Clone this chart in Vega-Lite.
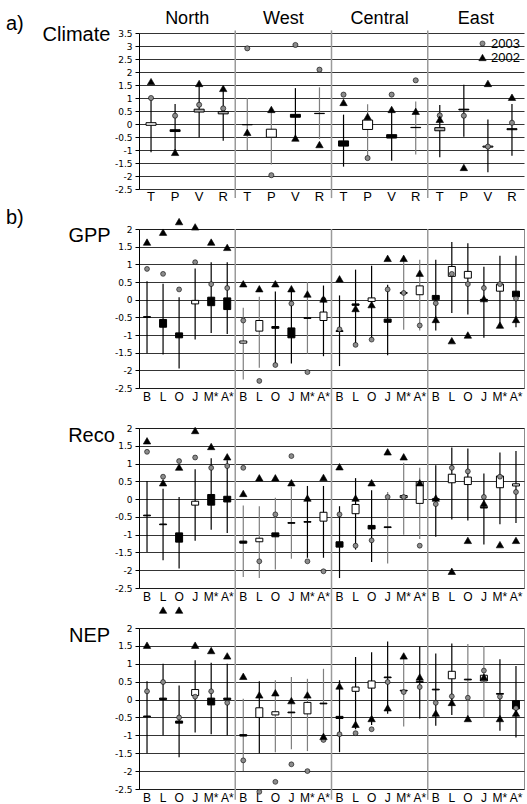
{
 "$schema": "https://vega.github.io/schema/vega-lite/v6.json",
 "padding": {"left": 5, "top": 10, "right": 2, "bottom": 2},
 "background": "white",
 "bounds": "flush",
 "spacing": 40,
 "config": {
  "font": "Liberation Sans",
  "view": {"stroke": null},
  "axis": {"labelFont": "Liberation Sans", "labelColor": "#000", "titleColor": "#000", "titleFont": "Liberation Sans", "titleFontWeight": "normal"},
  "axisY": {"grid": true, "gridColor": "#000", "gridWidth": 0.8, "domainColor": "#000", "tickColor": "#000", "tickSize": 4, "labelFont": "DejaVu Sans", "labelFontSize": 9, "labelPadding": 3, "titleAngle": 0, "titleFontSize": 20, "titleAlign": "center", "titleBaseline": "alphabetic"},
  "axisX": {"grid": false, "domain": false, "ticks": false, "labelAngle": 0, "labelFontSize": 12, "labelPadding": 3},
  "title": {"fontSize": 20, "fontWeight": "normal", "anchor": "start", "frame": "group", "offset": 0, "font": "Liberation Sans"}
 },
 "resolve": {"scale": {"x": "independent", "y": "independent", "color": "independent", "shape": "independent", "size": "independent", "fill": "independent", "stroke": "independent"}, "legend": {"color": "independent", "shape": "independent", "size": "independent"}},
 "datasets": {
  "clim": [
   {"c":"1T","lo":-1.09,"hi":1.0,"blo":-0.05,"bhi":0.05,"s":"w","w":"k","2003":1.0,"2002":1.63},
   {"c":"1P","lo":-1.09,"hi":0.77,"blo":-0.29,"bhi":-0.22,"s":"b","w":"k","2003":0.32,"2002":-1.09},
   {"c":"1V","lo":-0.51,"hi":1.51,"blo":0.46,"bhi":0.57,"s":"g","w":"k","2003":0.74,"2002":1.56},
   {"c":"1R","lo":-0.64,"hi":1.35,"blo":0.39,"bhi":0.48,"s":"g","w":"k","2003":0.6,"2002":1.37},
   {"c":"2T","lo":-1.0,"hi":1.0,"blo":-0.03,"bhi":-0.02,"s":"b","w":"g","2003":2.91,"2002":-0.32},
   {"c":"2P","lo":-1.56,"hi":0.54,"blo":-0.51,"bhi":-0.2,"s":"w","w":"g","2003":-1.97,"2002":0.56},
   {"c":"2V","lo":-0.58,"hi":1.38,"blo":0.26,"bhi":0.37,"s":"b","w":"k","2003":3.04,"2002":-0.54},
   {"c":"2R","lo":-0.58,"hi":1.41,"blo":0.4,"bhi":0.41,"s":"g","w":"g","2003":2.09,"2002":-0.79},
   {"c":"3T","lo":-1.64,"hi":0.36,"blo":-0.85,"bhi":-0.65,"s":"b","w":"k","2003":1.13,"2002":0.83},
   {"c":"3P","lo":-1.28,"hi":0.76,"blo":-0.21,"bhi":0.15,"s":"w","w":"g","2003":-1.31,"2002":0.29},
   {"c":"3V","lo":-1.41,"hi":0.54,"blo":-0.54,"bhi":-0.41,"s":"b","w":"k","2003":1.13,"2002":0.56},
   {"c":"3R","lo":-1.17,"hi":0.87,"blo":-0.14,"bhi":-0.13,"s":"b","w":"g","2003":1.68,"2002":0.49},
   {"c":"4T","lo":-1.28,"hi":0.73,"blo":-0.26,"bhi":-0.14,"s":"g","w":"k","2003":0.33,"2002":0.18},
   {"c":"4P","lo":-0.49,"hi":1.51,"blo":0.54,"bhi":0.57,"s":"b","w":"k","2003":0.32,"2002":-1.67},
   {"c":"4V","lo":-1.86,"hi":0.17,"blo":-0.89,"bhi":-0.85,"s":"g","w":"k","2003":-0.87,"2002":1.56},
   {"c":"4R","lo":-1.22,"hi":0.77,"blo":-0.22,"bhi":-0.18,"s":"b","w":"k","2003":0.05,"2002":1.03}
  ],
  "gpp": [
   {"c":"1B","lo":-1.52,"hi":0.52,"blo":-0.5,"bhi":-0.48,"s":"b","w":"k","2003":0.87,"2002":1.63},
   {"c":"1L","lo":-1.55,"hi":0.45,"blo":-0.78,"bhi":-0.56,"s":"b","w":"k","2003":0.73,"2002":1.91},
   {"c":"1O","lo":-1.95,"hi":0.07,"blo":-1.08,"bhi":-0.94,"s":"b","w":"k","2003":0.29,"2002":2.21},
   {"c":"1J","lo":-1.13,"hi":0.88,"blo":-0.12,"bhi":-0.02,"s":"w","w":"k","2003":1.06,"2002":2.06},
   {"c":"1M*","lo":-0.94,"hi":1.06,"blo":-0.17,"bhi":0.07,"s":"b","w":"k","2003":0.44,"2002":1.63},
   {"c":"1A*","lo":-0.97,"hi":1.06,"blo":-0.28,"bhi":0.05,"s":"b","w":"k","2003":0.33,"2002":1.48},
   {"c":"2B","lo":-2.26,"hi":-0.23,"blo":-1.23,"bhi":-1.17,"s":"w","w":"g","2003":-0.59,"2002":0.45},
   {"c":"2L","lo":-1.93,"hi":0.08,"blo":-0.89,"bhi":-0.59,"s":"w","w":"g","2003":-2.3,"2002":0.31},
   {"c":"2O","lo":-1.83,"hi":0.23,"blo":-0.81,"bhi":-0.76,"s":"b","w":"k","2003":-1.85,"2002":0.45},
   {"c":"2J","lo":-1.81,"hi":0.23,"blo":-1.08,"bhi":-0.8,"s":"b","w":"k","2003":-0.11,"2002":0.31},
   {"c":"2M*","lo":-1.53,"hi":0.5,"blo":-0.53,"bhi":-0.51,"s":"b","w":"g","2003":-2.05,"2002":0.16},
   {"c":"2A*","lo":-1.6,"hi":0.4,"blo":-0.59,"bhi":-0.35,"s":"w","w":"k","2003":0.0,"2002":0.02},
   {"c":"3B","lo":-1.88,"hi":0.12,"blo":-0.9,"bhi":-0.88,"s":"b","w":"k","2003":-0.84,"2002":0.59},
   {"c":"3L","lo":-1.27,"hi":0.85,"blo":-0.16,"bhi":-0.12,"s":"b","w":"k","2003":-1.28,"2002":-0.25},
   {"c":"3O","lo":-1.13,"hi":0.96,"blo":-0.05,"bhi":0.05,"s":"w","w":"k","2003":-1.13,"2002":-0.14},
   {"c":"3J","lo":-1.57,"hi":0.42,"blo":-0.64,"bhi":-0.55,"s":"b","w":"k","2003":0.29,"2002":1.17},
   {"c":"3M*","lo":-0.85,"hi":1.22,"blo":0.18,"bhi":0.2,"s":"b","w":"g","2003":0.19,"2002":1.17},
   {"c":"3A*","lo":-0.87,"hi":1.13,"blo":0.14,"bhi":0.39,"s":"w","w":"g","2003":-0.73,"2002":0.75},
   {"c":"4B","lo":-0.87,"hi":1.13,"blo":0.0,"bhi":0.12,"s":"b","w":"k","2003":-0.1,"2002":-0.56},
   {"c":"4L","lo":-0.38,"hi":1.63,"blo":0.66,"bhi":0.94,"s":"w","w":"k","2003":0.73,"2002":-1.16},
   {"c":"4O","lo":-0.42,"hi":1.6,"blo":0.61,"bhi":0.8,"s":"w","w":"k","2003":0.44,"2002":-1.0},
   {"c":"4J","lo":-1.08,"hi":0.93,"blo":-0.01,"bhi":0.01,"s":"b","w":"k","2003":0.33,"2002":0.03},
   {"c":"4M*","lo":-0.75,"hi":1.24,"blo":0.24,"bhi":0.44,"s":"w","w":"k","2003":0.44,"2002":-0.72},
   {"c":"4A*","lo":-0.78,"hi":1.24,"blo":0.08,"bhi":0.24,"s":"b","w":"k","2003":0.03,"2002":-0.56}
  ],
  "reco": [
   {"c":"1B","lo":-1.49,"hi":0.51,"blo":-0.47,"bhi":-0.45,"s":"b","w":"k","2003":1.33,"2002":1.64},
   {"c":"1L","lo":-1.72,"hi":0.29,"blo":-0.72,"bhi":-0.7,"s":"b","w":"k","2003":0.63,"2002":0.46},
   {"c":"1O","lo":-1.95,"hi":0.06,"blo":-1.21,"bhi":-0.95,"s":"b","w":"k","2003":1.07,"2002":0.9},
   {"c":"1J","lo":-1.17,"hi":0.84,"blo":-0.17,"bhi":-0.06,"s":"w","w":"k","2003":1.17,"2002":1.93},
   {"c":"1M*","lo":-0.86,"hi":1.15,"blo":-0.17,"bhi":0.13,"s":"b","w":"k","2003":0.88,"2002":1.48},
   {"c":"1A*","lo":-0.95,"hi":1.09,"blo":-0.08,"bhi":0.08,"s":"b","w":"k","2003":0.93,"2002":1.19},
   {"c":"2B","lo":-2.19,"hi":-0.18,"blo":-1.24,"bhi":-1.18,"s":"b","w":"g","2003":0.88,"2002":0.16},
   {"c":"2L","lo":-2.22,"hi":-0.2,"blo":-1.2,"bhi":-1.1,"s":"w","w":"g","2003":-1.75,"2002":0.6},
   {"c":"2O","lo":-1.98,"hi":0.04,"blo":-1.06,"bhi":-0.95,"s":"b","w":"g","2003":-0.43,"2002":0.6},
   {"c":"2J","lo":-1.68,"hi":0.34,"blo":-0.68,"bhi":-0.66,"s":"b","w":"g","2003":1.21,"2002":0.46},
   {"c":"2M*","lo":-1.65,"hi":0.37,"blo":-0.65,"bhi":-0.63,"s":"b","w":"k","2003":-1.75,"2002":0.03},
   {"c":"2A*","lo":-1.65,"hi":0.37,"blo":-0.62,"bhi":-0.37,"s":"w","w":"k","2003":-2.03,"2002":0.61},
   {"c":"3B","lo":-2.22,"hi":-0.2,"blo":-1.35,"bhi":-1.2,"s":"b","w":"k","2003":-0.43,"2002":0.91},
   {"c":"3L","lo":-1.42,"hi":0.59,"blo":-0.41,"bhi":-0.15,"s":"w","w":"k","2003":-1.31,"2002":0.03},
   {"c":"3O","lo":-1.77,"hi":0.25,"blo":-0.84,"bhi":-0.74,"s":"b","w":"k","2003":-1.16,"2002":0.46},
   {"c":"3J","lo":-1.81,"hi":0.2,"blo":-0.8,"bhi":-0.78,"s":"b","w":"g","2003":0.06,"2002":1.33},
   {"c":"3M*","lo":-1.0,"hi":1.02,"blo":0.04,"bhi":0.1,"s":"w","w":"g","2003":0.06,"2002":1.19},
   {"c":"3A*","lo":-1.12,"hi":0.88,"blo":-0.12,"bhi":0.49,"s":"w","w":"g","2003":-1.31,"2002":0.46},
   {"c":"4B","lo":-1.06,"hi":0.95,"blo":-0.01,"bhi":0.01,"s":"b","w":"k","2003":-0.14,"2002":0.03},
   {"c":"4L","lo":-0.57,"hi":1.45,"blo":0.46,"bhi":0.7,"s":"w","w":"k","2003":0.88,"2002":-2.03},
   {"c":"4O","lo":-0.6,"hi":1.42,"blo":0.41,"bhi":0.62,"s":"w","w":"k","2003":0.78,"2002":-1.16},
   {"c":"4J","lo":-1.28,"hi":0.72,"blo":-0.25,"bhi":-0.23,"s":"b","w":"k","2003":0.06,"2002":-0.12},
   {"c":"4M*","lo":-0.71,"hi":1.31,"blo":0.32,"bhi":0.65,"s":"w","w":"k","2003":0.63,"2002":-1.28},
   {"c":"4A*","lo":-0.67,"hi":1.35,"blo":0.37,"bhi":0.43,"s":"w","w":"k","2003":0.2,"2002":-1.16}
  ],
  "nep": [
   {"c":"1B","lo":-1.5,"hi":0.51,"blo":-0.48,"bhi":-0.46,"s":"b","w":"k","2003":0.23,"2002":1.52},
   {"c":"1L","lo":-1.0,"hi":1.0,"blo":0.0,"bhi":0.04,"s":"b","w":"k","2003":0.49,"2002":2.5},
   {"c":"1O","lo":-1.61,"hi":0.39,"blo":-0.66,"bhi":-0.6,"s":"b","w":"k","2003":-0.5,"2002":2.5},
   {"c":"1J","lo":-0.92,"hi":1.1,"blo":0.11,"bhi":0.28,"s":"w","w":"k","2003":0.08,"2002":1.52},
   {"c":"1M*","lo":-0.97,"hi":1.03,"blo":-0.15,"bhi":0.04,"s":"b","w":"k","2003":0.23,"2002":1.37},
   {"c":"1A*","lo":-1.0,"hi":1.0,"blo":0.0,"bhi":0.04,"s":"b","w":"k","2003":-0.09,"2002":1.22},
   {"c":"2B","lo":-2.0,"hi":0.02,"blo":-1.02,"bhi":-0.98,"s":"b","w":"g","2003":-1.7,"2002":0.65},
   {"c":"2L","lo":-1.5,"hi":0.51,"blo":-0.5,"bhi":-0.23,"s":"w","w":"k","2003":-2.58,"2002":0.13},
   {"c":"2O","lo":-1.47,"hi":0.54,"blo":-0.43,"bhi":-0.34,"s":"w","w":"g","2003":-2.3,"2002":0.19},
   {"c":"2J","lo":-1.39,"hi":0.63,"blo":-0.37,"bhi":-0.35,"s":"b","w":"g","2003":-1.81,"2002":-0.03},
   {"c":"2M*","lo":-1.44,"hi":0.58,"blo":-0.4,"bhi":-0.08,"s":"w","w":"g","2003":-2.0,"2002":0.13},
   {"c":"2A*","lo":-1.14,"hi":0.86,"blo":-0.12,"bhi":-0.1,"s":"b","w":"g","2003":-1.13,"2002":-1.03},
   {"c":"3B","lo":-1.47,"hi":0.54,"blo":-0.53,"bhi":-0.47,"s":"b","w":"k","2003":-0.97,"2002":0.38},
   {"c":"3L","lo":-0.83,"hi":1.19,"blo":0.23,"bhi":0.35,"s":"w","w":"k","2003":-0.94,"2002":-0.69},
   {"c":"3O","lo":-0.71,"hi":1.32,"blo":0.32,"bhi":0.52,"s":"w","w":"k","2003":-0.83,"2002":-0.53},
   {"c":"3J","lo":-0.4,"hi":1.62,"blo":0.61,"bhi":0.63,"s":"b","w":"k","2003":0.49,"2002":-0.23},
   {"c":"3M*","lo":-0.75,"hi":1.29,"blo":0.24,"bhi":0.26,"s":"b","w":"g","2003":0.21,"2002":1.22},
   {"c":"3A*","lo":-0.53,"hi":1.48,"blo":0.48,"bhi":0.5,"s":"b","w":"k","2003":0.35,"2002":0.63},
   {"c":"4B","lo":-0.73,"hi":1.29,"blo":0.27,"bhi":0.29,"s":"b","w":"k","2003":-0.09,"2002":-0.38},
   {"c":"4L","lo":-0.43,"hi":1.57,"blo":0.58,"bhi":0.79,"s":"w","w":"k","2003":0.09,"2002":-0.08},
   {"c":"4O","lo":-0.5,"hi":1.55,"blo":0.55,"bhi":0.57,"s":"b","w":"g","2003":0.05,"2002":-0.53},
   {"c":"4J","lo":-0.5,"hi":1.5,"blo":0.52,"bhi":0.68,"s":"w","w":"g","2003":0.81,"2002":0.63},
   {"c":"4M*","lo":-0.87,"hi":1.13,"blo":0.15,"bhi":0.17,"s":"b","w":"k","2003":0.08,"2002":-0.53},
   {"c":"4A*","lo":-1.06,"hi":0.94,"blo":-0.26,"bhi":-0.03,"s":"b","w":"k","2003":-0.24,"2002":-0.38}
  ]
 },
 "vconcat": [
  {
   "width": 385, "height": 156,
   "title": {"text": "a)", "dx": -133, "dy": 44, "baseline": "alphabetic"},
   "layer": [
    {"data": {"values": [{"c":"2T"},{"c":"3T"},{"c":"4T"}]},
     "mark": {"type": "rule", "color": "#9a9a9a", "strokeWidth": 1.5},
     "encoding": {
      "x": {"field": "c", "type": "nominal", "bandPosition": 0, "scale": {"type": "band", "domain": ["1T","1P","1V","1R","2T","2P","2V","2R","3T","3P","3V","3R","4T","4P","4V","4R"], "paddingInner": 0, "paddingOuter": 0}, "axis": {"title": null, "labelExpr": "substring(datum.label, 1)", "labelFontSize": 13, "labelPadding": 1}},
      "y": {"datum": 3.6, "type": "quantitative", "scale": {"domain": [-2.5, 3.5], "nice": false, "zero": false}, "axis": {"values": [-2.5,-2,-1.5,-1,-0.5,0,0.5,1,1.5,2,2.5,3,3.5], "title": "Climate", "labelExpr": "datum.value + ''", "titleX": -63, "titleY": 7}},
      "y2": {"datum": -2.85}
     }},
    {"data": {"name": "clim"},
     "mark": {"type": "rule", "strokeWidth": 1.2},
     "encoding": {
      "x": {"field": "c", "type": "nominal", "scale": {"type": "band", "domain": ["1T","1P","1V","1R","2T","2P","2V","2R","3T","3P","3V","3R","4T","4P","4V","4R"], "paddingInner": 0, "paddingOuter": 0}, "axis": {"title": null, "labelExpr": "substring(datum.label, 1)", "labelFontSize": 13, "labelPadding": 1}},
      "y": {"field": "lo", "type": "quantitative", "scale": {"domain": [-2.5, 3.5], "nice": false, "zero": false}, "axis": {"values": [-2.5,-2,-1.5,-1,-0.5,0,0.5,1,1.5,2,2.5,3,3.5], "title": "Climate", "labelExpr": "datum.value + ''", "titleX": -63, "titleY": 7}},
      "y2": {"field": "hi"},
      "stroke": {"field": "w", "type": "nominal", "scale": {"domain": ["k","g"], "range": ["#000000","#7f7f7f"]}, "legend": null}
     }},
    {"data": {"name": "clim"},
     "mark": {"type": "bar", "size": 10, "stroke": "#000", "strokeWidth": 1},
     "encoding": {
      "x": {"field": "c", "type": "nominal", "scale": {"type": "band", "domain": ["1T","1P","1V","1R","2T","2P","2V","2R","3T","3P","3V","3R","4T","4P","4V","4R"], "paddingInner": 0, "paddingOuter": 0}, "axis": {"title": null, "labelExpr": "substring(datum.label, 1)", "labelFontSize": 13, "labelPadding": 1}},
      "y": {"field": "blo", "type": "quantitative", "scale": {"domain": [-2.5, 3.5], "nice": false, "zero": false}, "axis": {"values": [-2.5,-2,-1.5,-1,-0.5,0,0.5,1,1.5,2,2.5,3,3.5], "title": "Climate", "labelExpr": "datum.value + ''", "titleX": -63, "titleY": 7}},
      "y2": {"field": "bhi"},
      "fill": {"field": "s", "type": "nominal", "scale": {"domain": ["w","b","g"], "range": ["#ffffff","#000000","#b0b0b0"]}, "legend": null}
     }},
    {"data": {"name": "clim"},
     "transform": [{"fold": ["2003","2002"], "as": ["year","val"]}],
     "mark": {"type": "point", "filled": true, "stroke": "#000", "strokeWidth": 0.6, "opacity": 1},
     "encoding": {
      "x": {"field": "c", "type": "nominal", "scale": {"type": "band", "domain": ["1T","1P","1V","1R","2T","2P","2V","2R","3T","3P","3V","3R","4T","4P","4V","4R"], "paddingInner": 0, "paddingOuter": 0}, "axis": {"title": null, "labelExpr": "substring(datum.label, 1)", "labelFontSize": 13, "labelPadding": 1}},
      "y": {"field": "val", "type": "quantitative", "scale": {"domain": [-2.5, 3.5], "nice": false, "zero": false}, "axis": {"values": [-2.5,-2,-1.5,-1,-0.5,0,0.5,1,1.5,2,2.5,3,3.5], "title": "Climate", "labelExpr": "datum.value + ''", "titleX": -63, "titleY": 7}},
      "color": {"field": "year", "type": "nominal", "scale": {"domain": ["2003","2002"], "range": ["#8c8c8c","#000000"]}, "legend": {"orient": "top-right", "title": null, "offset": 4, "padding": 0, "rowPadding": 0, "labelFontSize": 13, "labelFont": "Liberation Sans", "labelOffset": 2, "symbolStrokeColor": "#000", "symbolStrokeWidth": 0.5}},
      "shape": {"field": "year", "type": "nominal", "scale": {"domain": ["2003","2002"], "range": ["circle","triangle-up"]}, "legend": {"orient": "top-right", "title": null, "offset": 4, "padding": 0, "rowPadding": 0, "labelFontSize": 13, "labelFont": "Liberation Sans", "labelOffset": 2, "symbolStrokeColor": "#000", "symbolStrokeWidth": 0.5}},
      "size": {"field": "year", "type": "nominal", "scale": {"domain": ["2003","2002"], "range": [26, 55]}, "legend": {"orient": "top-right", "title": null, "offset": 4, "padding": 0, "rowPadding": 0, "labelFontSize": 13, "labelFont": "Liberation Sans", "labelOffset": 2, "symbolStrokeColor": "#000", "symbolStrokeWidth": 0.5}}
     }},
    {"data": {"values": [{"c":"1V","n":"North"},{"c":"2V","n":"West"},{"c":"3V","n":"Central"},{"c":"4V","n":"East"}]},
     "mark": {"type": "text", "fontSize": 18, "font": "Liberation Sans", "baseline": "middle", "color": "#000"},
     "encoding": {
      "x": {"field": "c", "type": "nominal", "bandPosition": 0, "scale": {"type": "band", "domain": ["1T","1P","1V","1R","2T","2P","2V","2R","3T","3P","3V","3R","4T","4P","4V","4R"], "paddingInner": 0, "paddingOuter": 0}, "axis": {"title": null, "labelExpr": "substring(datum.label, 1)", "labelFontSize": 13, "labelPadding": 1}},
      "y": {"datum": 4.02, "type": "quantitative", "scale": {"domain": [-2.5, 3.5], "nice": false, "zero": false}, "axis": {"values": [-2.5,-2,-1.5,-1,-0.5,0,0.5,1,1.5,2,2.5,3,3.5], "title": "Climate", "labelExpr": "datum.value + ''", "titleX": -63, "titleY": 7}},
      "text": {"field": "n"}
     }}
   ]
  },
  {
   "width": 385, "height": 159,
   "view": {"stroke": "#8c8c8c"},
   "title": {"text": "b)", "dx": -133, "dy": 31, "baseline": "alphabetic"},
   "layer": [
    {"data": {"values": [{"c":"2B"},{"c":"3B"},{"c":"4B"}]},
     "mark": {"type": "rule", "color": "#9a9a9a", "strokeWidth": 1.5},
     "encoding": {
      "x": {"field": "c", "type": "nominal", "bandPosition": 0, "scale": {"type": "band", "domain": ["1B","1L","1O","1J","1M*","1A*","2B","2L","2O","2J","2M*","2A*","3B","3L","3O","3J","3M*","3A*","4B","4L","4O","4J","4M*","4A*"], "paddingInner": 0, "paddingOuter": 0}, "axis": {"title": null, "labelExpr": "substring(datum.label, 1)"}},
      "y": {"datum": 2, "type": "quantitative", "scale": {"domain": [-2.5, 2], "nice": false, "zero": false}, "axis": {"values": [-2.5,-2,-1.5,-1,-0.5,0,0.5,1,1.5,2], "title": "GPP", "labelExpr": "datum.value + ''", "titleX": -50, "titleY": 12}},
      "y2": {"datum": -3.63}
     }},
    {"data": {"name": "gpp"},
     "mark": {"type": "rule", "strokeWidth": 1.2},
     "encoding": {
      "x": {"field": "c", "type": "nominal", "scale": {"type": "band", "domain": ["1B","1L","1O","1J","1M*","1A*","2B","2L","2O","2J","2M*","2A*","3B","3L","3O","3J","3M*","3A*","4B","4L","4O","4J","4M*","4A*"], "paddingInner": 0, "paddingOuter": 0}, "axis": {"title": null, "labelExpr": "substring(datum.label, 1)"}},
      "y": {"field": "lo", "type": "quantitative", "scale": {"domain": [-2.5, 2], "nice": false, "zero": false}, "axis": {"values": [-2.5,-2,-1.5,-1,-0.5,0,0.5,1,1.5,2], "title": "GPP", "labelExpr": "datum.value + ''", "titleX": -50, "titleY": 12}},
      "y2": {"field": "hi"},
      "stroke": {"field": "w", "type": "nominal", "scale": {"domain": ["k","g"], "range": ["#000000","#7f7f7f"]}, "legend": null}
     }},
    {"data": {"name": "gpp"},
     "mark": {"type": "bar", "size": 7, "stroke": "#000", "strokeWidth": 1},
     "encoding": {
      "x": {"field": "c", "type": "nominal", "scale": {"type": "band", "domain": ["1B","1L","1O","1J","1M*","1A*","2B","2L","2O","2J","2M*","2A*","3B","3L","3O","3J","3M*","3A*","4B","4L","4O","4J","4M*","4A*"], "paddingInner": 0, "paddingOuter": 0}, "axis": {"title": null, "labelExpr": "substring(datum.label, 1)"}},
      "y": {"field": "blo", "type": "quantitative", "scale": {"domain": [-2.5, 2], "nice": false, "zero": false}, "axis": {"values": [-2.5,-2,-1.5,-1,-0.5,0,0.5,1,1.5,2], "title": "GPP", "labelExpr": "datum.value + ''", "titleX": -50, "titleY": 12}},
      "y2": {"field": "bhi"},
      "fill": {"field": "s", "type": "nominal", "scale": {"domain": ["w","b","g"], "range": ["#ffffff","#000000","#b0b0b0"]}, "legend": null}
     }},
    {"data": {"name": "gpp"},
     "transform": [{"fold": ["2003","2002"], "as": ["year","val"]}],
     "mark": {"type": "point", "filled": true, "stroke": "#000", "strokeWidth": 0.6, "opacity": 1},
     "encoding": {
      "x": {"field": "c", "type": "nominal", "scale": {"type": "band", "domain": ["1B","1L","1O","1J","1M*","1A*","2B","2L","2O","2J","2M*","2A*","3B","3L","3O","3J","3M*","3A*","4B","4L","4O","4J","4M*","4A*"], "paddingInner": 0, "paddingOuter": 0}, "axis": {"title": null, "labelExpr": "substring(datum.label, 1)"}},
      "y": {"field": "val", "type": "quantitative", "scale": {"domain": [-2.5, 2], "nice": false, "zero": false}, "axis": {"values": [-2.5,-2,-1.5,-1,-0.5,0,0.5,1,1.5,2], "title": "GPP", "labelExpr": "datum.value + ''", "titleX": -50, "titleY": 12}},
      "color": {"field": "year", "type": "nominal", "scale": {"domain": ["2003","2002"], "range": ["#8c8c8c","#000000"]}, "legend": null},
      "shape": {"field": "year", "type": "nominal", "scale": {"domain": ["2003","2002"], "range": ["circle","triangle-up"]}, "legend": null},
      "size": {"field": "year", "type": "nominal", "scale": {"domain": ["2003","2002"], "range": [24, 55]}, "legend": null}
     }}
   ]
  },
  {
   "width": 385, "height": 160,
   "view": {"stroke": "#8c8c8c"},
   "layer": [
    {"data": {"values": [{"c":"2B"},{"c":"3B"},{"c":"4B"}]},
     "mark": {"type": "rule", "color": "#9a9a9a", "strokeWidth": 1.5},
     "encoding": {
      "x": {"field": "c", "type": "nominal", "bandPosition": 0, "scale": {"type": "band", "domain": ["1B","1L","1O","1J","1M*","1A*","2B","2L","2O","2J","2M*","2A*","3B","3L","3O","3J","3M*","3A*","4B","4L","4O","4J","4M*","4A*"], "paddingInner": 0, "paddingOuter": 0}, "axis": {"title": null, "labelExpr": "substring(datum.label, 1)"}},
      "y": {"datum": 2, "type": "quantitative", "scale": {"domain": [-2.5, 2], "nice": false, "zero": false}, "axis": {"values": [-2.5,-2,-1.5,-1,-0.5,0,0.5,1,1.5,2], "title": "Reco", "labelExpr": "datum.value + ''", "titleX": -48, "titleY": 13}},
      "y2": {"datum": -3.62}
     }},
    {"data": {"name": "reco"},
     "mark": {"type": "rule", "strokeWidth": 1.2},
     "encoding": {
      "x": {"field": "c", "type": "nominal", "scale": {"type": "band", "domain": ["1B","1L","1O","1J","1M*","1A*","2B","2L","2O","2J","2M*","2A*","3B","3L","3O","3J","3M*","3A*","4B","4L","4O","4J","4M*","4A*"], "paddingInner": 0, "paddingOuter": 0}, "axis": {"title": null, "labelExpr": "substring(datum.label, 1)"}},
      "y": {"field": "lo", "type": "quantitative", "scale": {"domain": [-2.5, 2], "nice": false, "zero": false}, "axis": {"values": [-2.5,-2,-1.5,-1,-0.5,0,0.5,1,1.5,2], "title": "Reco", "labelExpr": "datum.value + ''", "titleX": -48, "titleY": 13}},
      "y2": {"field": "hi"},
      "stroke": {"field": "w", "type": "nominal", "scale": {"domain": ["k","g"], "range": ["#000000","#7f7f7f"]}, "legend": null}
     }},
    {"data": {"name": "reco"},
     "mark": {"type": "bar", "size": 7, "stroke": "#000", "strokeWidth": 1},
     "encoding": {
      "x": {"field": "c", "type": "nominal", "scale": {"type": "band", "domain": ["1B","1L","1O","1J","1M*","1A*","2B","2L","2O","2J","2M*","2A*","3B","3L","3O","3J","3M*","3A*","4B","4L","4O","4J","4M*","4A*"], "paddingInner": 0, "paddingOuter": 0}, "axis": {"title": null, "labelExpr": "substring(datum.label, 1)"}},
      "y": {"field": "blo", "type": "quantitative", "scale": {"domain": [-2.5, 2], "nice": false, "zero": false}, "axis": {"values": [-2.5,-2,-1.5,-1,-0.5,0,0.5,1,1.5,2], "title": "Reco", "labelExpr": "datum.value + ''", "titleX": -48, "titleY": 13}},
      "y2": {"field": "bhi"},
      "fill": {"field": "s", "type": "nominal", "scale": {"domain": ["w","b","g"], "range": ["#ffffff","#000000","#b0b0b0"]}, "legend": null}
     }},
    {"data": {"name": "reco"},
     "transform": [{"fold": ["2003","2002"], "as": ["year","val"]}],
     "mark": {"type": "point", "filled": true, "stroke": "#000", "strokeWidth": 0.6, "opacity": 1},
     "encoding": {
      "x": {"field": "c", "type": "nominal", "scale": {"type": "band", "domain": ["1B","1L","1O","1J","1M*","1A*","2B","2L","2O","2J","2M*","2A*","3B","3L","3O","3J","3M*","3A*","4B","4L","4O","4J","4M*","4A*"], "paddingInner": 0, "paddingOuter": 0}, "axis": {"title": null, "labelExpr": "substring(datum.label, 1)"}},
      "y": {"field": "val", "type": "quantitative", "scale": {"domain": [-2.5, 2], "nice": false, "zero": false}, "axis": {"values": [-2.5,-2,-1.5,-1,-0.5,0,0.5,1,1.5,2], "title": "Reco", "labelExpr": "datum.value + ''", "titleX": -48, "titleY": 13}},
      "color": {"field": "year", "type": "nominal", "scale": {"domain": ["2003","2002"], "range": ["#8c8c8c","#000000"]}, "legend": null},
      "shape": {"field": "year", "type": "nominal", "scale": {"domain": ["2003","2002"], "range": ["circle","triangle-up"]}, "legend": null},
      "size": {"field": "year", "type": "nominal", "scale": {"domain": ["2003","2002"], "range": [24, 55]}, "legend": null}
     }}
   ]
  },
  {
   "width": 385, "height": 161,
   "view": {"stroke": "#8c8c8c"},
   "layer": [
    {"data": {"values": [{"c":"2B"},{"c":"3B"},{"c":"4B"}]},
     "mark": {"type": "rule", "color": "#9a9a9a", "strokeWidth": 1.5},
     "encoding": {
      "x": {"field": "c", "type": "nominal", "bandPosition": 0, "scale": {"type": "band", "domain": ["1B","1L","1O","1J","1M*","1A*","2B","2L","2O","2J","2M*","2A*","3B","3L","3O","3J","3M*","3A*","4B","4L","4O","4J","4M*","4A*"], "paddingInner": 0, "paddingOuter": 0}, "axis": {"title": null, "labelExpr": "substring(datum.label, 1)"}},
      "y": {"datum": 2, "type": "quantitative", "scale": {"domain": [-2.5, 2], "nice": false, "zero": false}, "axis": {"values": [-2.5,-2,-1.5,-1,-0.5,0,0.5,1,1.5,2], "title": "NEP", "labelExpr": "datum.value + ''", "titleX": -50, "titleY": 13}},
      "y2": {"datum": -2.8}
     }},
    {"data": {"name": "nep"},
     "mark": {"type": "rule", "strokeWidth": 1.2},
     "encoding": {
      "x": {"field": "c", "type": "nominal", "scale": {"type": "band", "domain": ["1B","1L","1O","1J","1M*","1A*","2B","2L","2O","2J","2M*","2A*","3B","3L","3O","3J","3M*","3A*","4B","4L","4O","4J","4M*","4A*"], "paddingInner": 0, "paddingOuter": 0}, "axis": {"title": null, "labelExpr": "substring(datum.label, 1)"}},
      "y": {"field": "lo", "type": "quantitative", "scale": {"domain": [-2.5, 2], "nice": false, "zero": false}, "axis": {"values": [-2.5,-2,-1.5,-1,-0.5,0,0.5,1,1.5,2], "title": "NEP", "labelExpr": "datum.value + ''", "titleX": -50, "titleY": 13}},
      "y2": {"field": "hi"},
      "stroke": {"field": "w", "type": "nominal", "scale": {"domain": ["k","g"], "range": ["#000000","#7f7f7f"]}, "legend": null}
     }},
    {"data": {"name": "nep"},
     "mark": {"type": "bar", "size": 7, "stroke": "#000", "strokeWidth": 1},
     "encoding": {
      "x": {"field": "c", "type": "nominal", "scale": {"type": "band", "domain": ["1B","1L","1O","1J","1M*","1A*","2B","2L","2O","2J","2M*","2A*","3B","3L","3O","3J","3M*","3A*","4B","4L","4O","4J","4M*","4A*"], "paddingInner": 0, "paddingOuter": 0}, "axis": {"title": null, "labelExpr": "substring(datum.label, 1)"}},
      "y": {"field": "blo", "type": "quantitative", "scale": {"domain": [-2.5, 2], "nice": false, "zero": false}, "axis": {"values": [-2.5,-2,-1.5,-1,-0.5,0,0.5,1,1.5,2], "title": "NEP", "labelExpr": "datum.value + ''", "titleX": -50, "titleY": 13}},
      "y2": {"field": "bhi"},
      "fill": {"field": "s", "type": "nominal", "scale": {"domain": ["w","b","g"], "range": ["#ffffff","#000000","#b0b0b0"]}, "legend": null}
     }},
    {"data": {"name": "nep"},
     "transform": [{"fold": ["2003","2002"], "as": ["year","val"]}],
     "mark": {"type": "point", "filled": true, "stroke": "#000", "strokeWidth": 0.6, "opacity": 1},
     "encoding": {
      "x": {"field": "c", "type": "nominal", "scale": {"type": "band", "domain": ["1B","1L","1O","1J","1M*","1A*","2B","2L","2O","2J","2M*","2A*","3B","3L","3O","3J","3M*","3A*","4B","4L","4O","4J","4M*","4A*"], "paddingInner": 0, "paddingOuter": 0}, "axis": {"title": null, "labelExpr": "substring(datum.label, 1)"}},
      "y": {"field": "val", "type": "quantitative", "scale": {"domain": [-2.5, 2], "nice": false, "zero": false}, "axis": {"values": [-2.5,-2,-1.5,-1,-0.5,0,0.5,1,1.5,2], "title": "NEP", "labelExpr": "datum.value + ''", "titleX": -50, "titleY": 13}},
      "color": {"field": "year", "type": "nominal", "scale": {"domain": ["2003","2002"], "range": ["#8c8c8c","#000000"]}, "legend": null},
      "shape": {"field": "year", "type": "nominal", "scale": {"domain": ["2003","2002"], "range": ["circle","triangle-up"]}, "legend": null},
      "size": {"field": "year", "type": "nominal", "scale": {"domain": ["2003","2002"], "range": [24, 55]}, "legend": null}
     }}
   ]
  }
 ]
}
